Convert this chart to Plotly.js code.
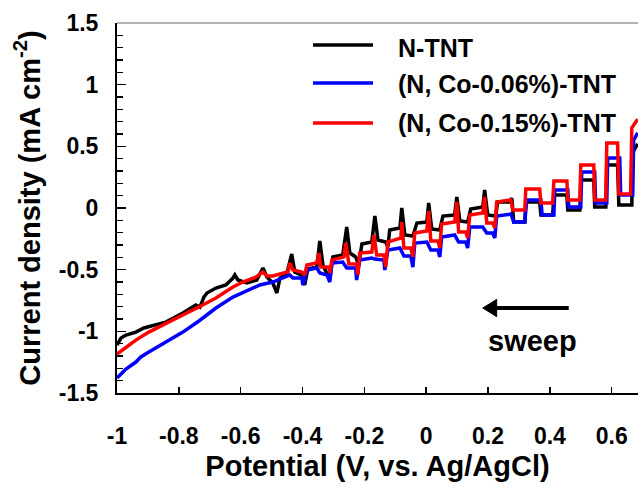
<!DOCTYPE html>
<html><head><meta charset="utf-8">
<script src="https://cdn.plot.ly/plotly-3.0.1.min.js"></script>
<style>html,body{margin:0;padding:0;background:#fff}</style>
</head><body><div id="chart" style="width:638px;height:491px"></div>
<script>
const seriesNames = ['N-TNT', '(N, Co-0.06%)-TNT', '(N, Co-0.15%)-TNT'];
const seriesColors = ['#000000', '#0000ff', '#ff0000'];

const potBlack = [-1.0, -0.987, -0.971, -0.939, -0.913, -0.875, -0.842, -0.787, -0.745, -0.732, -0.719, -0.709, -0.680, -0.648, -0.625, -0.619, -0.609, -0.580, -0.548, -0.528, -0.515, -0.496, -0.483, -0.473, -0.451, -0.435, -0.425, -0.405, -0.393, -0.383, -0.354, -0.344, -0.334, -0.312, -0.302, -0.270, -0.257, -0.247, -0.228, -0.218, -0.208, -0.176, -0.166, -0.156, -0.131, -0.124, -0.118, -0.085, -0.079, -0.069, -0.043, -0.030, 0.002, 0.008, 0.018, 0.044, 0.054, 0.092, 0.099, 0.109, 0.134, 0.144, 0.183, 0.189, 0.199, 0.225, 0.231, 0.270, 0.277, 0.283, 0.319, 0.322, 0.367, 0.371, 0.409, 0.413, 0.455, 0.458, 0.497, 0.500, 0.542, 0.545, 0.581, 0.584, 0.619, 0.623, 0.665, 0.668, 0.684];
const curBlack = [-1.111, -1.054, -1.030, -1.006, -0.973, -0.949, -0.925, -0.852, -0.787, -0.803, -0.722, -0.689, -0.649, -0.624, -0.568, -0.543, -0.584, -0.608, -0.584, -0.487, -0.560, -0.608, -0.689, -0.568, -0.535, -0.373, -0.519, -0.543, -0.624, -0.495, -0.479, -0.268, -0.462, -0.584, -0.397, -0.381, -0.154, -0.365, -0.397, -0.462, -0.292, -0.276, -0.065, -0.260, -0.276, -0.316, -0.178, -0.162, 0.000, -0.219, -0.227, -0.122, -0.114, 0.041, -0.170, -0.178, -0.065, -0.057, 0.089, -0.105, -0.114, -0.008, 0.008, 0.146, -0.057, -0.065, 0.049, 0.049, 0.081, -0.114, -0.114, 0.049, 0.049, -0.057, -0.057, 0.105, 0.105, -0.016, -0.016, 0.227, 0.227, 0.008, 0.008, 0.349, 0.349, 0.024, 0.024, 0.45, 0.52];

const potBlue = [-1.0, -0.971, -0.939, -0.923, -0.897, -0.842, -0.787, -0.735, -0.680, -0.625, -0.574, -0.538, -0.496, -0.464, -0.441, -0.431, -0.402, -0.399, -0.386, -0.354, -0.344, -0.321, -0.312, -0.305, -0.270, -0.257, -0.228, -0.225, -0.215, -0.176, -0.166, -0.137, -0.134, -0.124, -0.085, -0.072, -0.050, -0.043, -0.037, 0.002, 0.015, 0.038, 0.044, 0.050, 0.092, 0.105, 0.128, 0.134, 0.141, 0.183, 0.196, 0.215, 0.222, 0.228, 0.274, 0.283, 0.319, 0.325, 0.371, 0.375, 0.413, 0.416, 0.458, 0.461, 0.500, 0.503, 0.545, 0.548, 0.584, 0.587, 0.626, 0.629, 0.668, 0.671, 0.684];
const curBlue = [-1.379, -1.306, -1.249, -1.208, -1.168, -1.087, -1.006, -0.916, -0.811, -0.722, -0.665, -0.624, -0.600, -0.568, -0.543, -0.568, -0.568, -0.624, -0.503, -0.487, -0.527, -0.543, -0.600, -0.446, -0.438, -0.487, -0.487, -0.584, -0.422, -0.406, -0.414, -0.422, -0.503, -0.341, -0.324, -0.389, -0.389, -0.479, -0.284, -0.276, -0.341, -0.341, -0.397, -0.235, -0.219, -0.276, -0.276, -0.324, -0.154, -0.154, -0.203, -0.203, -0.243, -0.065, -0.049, -0.114, -0.114, 0.065, 0.065, -0.057, -0.057, 0.146, 0.146, 0.008, 0.008, 0.292, 0.292, 0.041, 0.041, 0.406, 0.406, 0.105, 0.105, 0.55, 0.61];

const potRed = [-1.0, -0.971, -0.939, -0.897, -0.842, -0.787, -0.735, -0.680, -0.625, -0.593, -0.551, -0.528, -0.515, -0.496, -0.473, -0.447, -0.441, -0.431, -0.402, -0.393, -0.386, -0.354, -0.347, -0.341, -0.315, -0.312, -0.305, -0.266, -0.260, -0.250, -0.225, -0.221, -0.215, -0.176, -0.169, -0.160, -0.137, -0.131, -0.124, -0.082, -0.079, -0.072, -0.050, -0.043, -0.037, 0.002, 0.008, 0.015, 0.038, 0.044, 0.050, 0.092, 0.099, 0.105, 0.128, 0.134, 0.141, 0.183, 0.189, 0.196, 0.215, 0.222, 0.228, 0.274, 0.280, 0.319, 0.322, 0.367, 0.371, 0.409, 0.413, 0.455, 0.458, 0.497, 0.500, 0.542, 0.545, 0.581, 0.584, 0.619, 0.623, 0.661, 0.665, 0.684];
const curRed = [-1.184, -1.127, -1.071, -1.006, -0.933, -0.868, -0.803, -0.730, -0.641, -0.600, -0.560, -0.519, -0.551, -0.551, -0.535, -0.519, -0.446, -0.503, -0.519, -0.543, -0.462, -0.446, -0.365, -0.479, -0.479, -0.527, -0.422, -0.397, -0.284, -0.454, -0.454, -0.543, -0.365, -0.357, -0.219, -0.381, -0.381, -0.479, -0.276, -0.243, -0.114, -0.324, -0.324, -0.397, -0.203, -0.187, -0.024, -0.268, -0.268, -0.324, -0.130, -0.114, 0.049, -0.195, -0.195, -0.243, -0.057, -0.041, 0.089, -0.122, -0.122, -0.162, 0.049, 0.065, -0.016, -0.016, 0.154, 0.154, 0.041, 0.041, 0.219, 0.219, 0.065, 0.065, 0.349, 0.349, 0.065, 0.065, 0.527, 0.527, 0.114, 0.114, 0.65, 0.72];

const xTickVals = [-1, -0.8, -0.6, -0.4, -0.2, 0, 0.2, 0.4, 0.6];
const xTickText = ['-1', '-0.8', '-0.6', '-0.4', '-0.2', '0', '0.2', '0.4', '0.6'];
const yTickVals = [1.5, 1, 0.5, 0, -0.5, -1, -1.5];
const yTickText = ['1.5', '1', '0.5', '0', '-0.5', '-1', '-1.5'];

// sweep arrow (annotation decoration, in data units): tail, head base, tip, half-height
const arrowTail = 0.461, arrowBase = 0.228, arrowTip = 0.183, arrowY = -0.811, arrowHalf = 0.07;

const FONT = 'Liberation Sans, Arial, sans-serif';
const pots = [potBlack, potBlue, potRed];
const curs = [curBlack, curBlue, curRed];

const traces = seriesNames.map((n, i) => ({
  type: 'scatter', mode: 'lines', name: n,
  x: pots[i], y: curs[i],
  line: {color: seriesColors[i], width: 3.5, shape: 'linear'},
  showlegend: false
}));

const legY = [0.9405, 0.838, 0.730];
const legTextY = [0.932, 0.835, 0.730];
const shapes = [
  {type: 'line', xref: 'paper', yref: 'paper', x0: 0, x1: 1, y0: 1, y1: 1, line: {color: '#999', width: 1.5}},
  {type: 'line', xref: 'x', yref: 'y', x0: arrowTail, x1: arrowBase - 0.005, y0: arrowY, y1: arrowY, line: {color: '#000', width: 4}},
  {type: 'path', xref: 'x', yref: 'y',
   path: 'M' + arrowTip + ',' + arrowY + ' L' + arrowBase + ',' + (arrowY + arrowHalf) + ' L' + arrowBase + ',' + (arrowY - arrowHalf) + ' Z',
   fillcolor: '#000', line: {color: '#000', width: 1}}
];
const annotations = [];
seriesNames.forEach((n, i) => {
  shapes.push({type: 'line', xref: 'paper', yref: 'paper', x0: 0.3762, x1: 0.4914, y0: legY[i], y1: legY[i], line: {color: seriesColors[i], width: 3.5}});
  annotations.push({xref: 'paper', yref: 'paper', x: 0.5355, y: legTextY[i], xanchor: 'left', yanchor: 'middle', text: n, showarrow: false, font: {family: FONT, size: 25, color: '#000', weight: 'bold'}});
});
annotations.push({xref: 'x', yref: 'y', x: 0.345, y: -1.079, text: 'sweep', showarrow: false, font: {family: FONT, size: 29, color: '#000', weight: 'bold'}});

const layout = {
  width: 638, height: 491,
  margin: {l: 117, r: 0, t: 23, b: 98},
  paper_bgcolor: '#fff', plot_bgcolor: '#fff',
  font: {family: FONT, color: '#000', weight: 'bold'},
  showlegend: false,
  xaxis: {
    range: [-1, 0.685], tickmode: 'array', tickvals: xTickVals, ticktext: xTickText,
    ticks: 'inside', ticklen: 6, tickwidth: 1.5, tickcolor: '#000',
    showline: true, linecolor: '#000', linewidth: 2, showgrid: false, zeroline: false,
    tickfont: {family: FONT, size: 23, weight: 'bold'}, ticklabelstandoff: 21,
    title: {text: 'Potential (V, vs. Ag/AgCl)', font: {family: FONT, size: 29, weight: 'bold'}, standoff: 8}
  },
  yaxis: {
    range: [-1.5, 1.5], tickmode: 'array', tickvals: yTickVals, ticktext: yTickText,
    ticks: 'inside', ticklen: 9, tickwidth: 1.5, tickcolor: '#000',
    minor: {dtick: 0.1, tick0: 0, ticks: 'inside', ticklen: 6, tickwidth: 1.5, tickcolor: '#000', showgrid: false},
    showline: true, linecolor: '#000', linewidth: 2, showgrid: false, zeroline: false,
    tickfont: {family: FONT, size: 23, weight: 'bold'}, ticklabelstandoff: 12,
    title: {text: 'Current density (mA cm<sup>-2</sup>)', font: {family: FONT, size: 29, weight: 'bold'}, standoff: 10}
  },
  shapes: shapes,
  annotations: annotations
};

Plotly.newPlot('chart', traces, layout, {staticPlot: true});
</script>
</body></html>
